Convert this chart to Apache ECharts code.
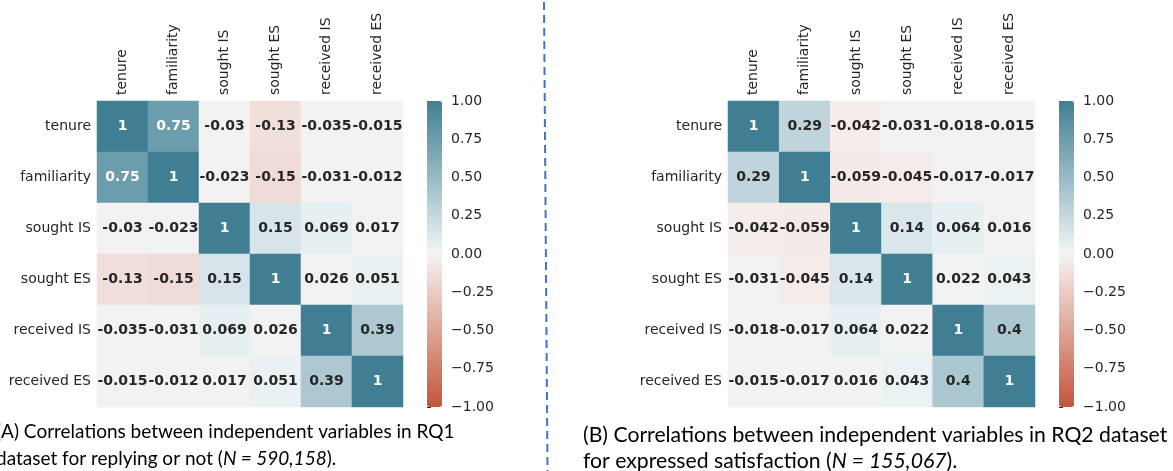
<!DOCTYPE html>
<html>
<head>
<meta charset="utf-8">
<script src="https://cdn.jsdelivr.net/npm/echarts@6/dist/echarts.min.js"></script>
<style>
html,body{margin:0;padding:0;background:#fff;}
#c{width:1173px;height:471px;}
</style>
</head>
<body>
<div id="c"></div>
<script>
const variables = ['tenure', 'familiarity', 'sought IS', 'sought ES', 'received IS', 'received ES'];

const corrRQ1 = [
  [1, 0.75, -0.03, -0.13, -0.035, -0.015],
  [0.75, 1, -0.023, -0.15, -0.031, -0.012],
  [-0.03, -0.023, 1, 0.15, 0.069, 0.017],
  [-0.13, -0.15, 0.15, 1, 0.026, 0.051],
  [-0.035, -0.031, 0.069, 0.026, 1, 0.39],
  [-0.015, -0.012, 0.017, 0.051, 0.39, 1]
];

const corrRQ2 = [
  [1, 0.29, -0.042, -0.031, -0.018, -0.015],
  [0.29, 1, -0.059, -0.045, -0.017, -0.017],
  [-0.042, -0.059, 1, 0.14, 0.064, 0.016],
  [-0.031, -0.045, 0.14, 1, 0.022, 0.043],
  [-0.018, -0.017, 0.064, 0.022, 1, 0.4],
  [-0.015, -0.017, 0.016, 0.043, 0.4, 1]
];

const colorbarMin = -1, colorbarMax = 1, colorbarStep = 0.25;

const captionA = ['(A) Correlations between independent variables in RQ1', 'dataset for replying or not (', 'N = 590,158', ').'];
const captionB = ['(B) Correlations between independent variables in RQ2 dataset', 'for expressed satisfaction (', 'N = 155,067', ').'];

// diverging palette (seaborn-like: red -> light -> gray band -> light -> teal)
const NEG = [195, 85, 58], NEG_LIGHT = [245, 237, 235], MID = [242, 242, 242], POS_LIGHT = [235, 242, 244], POS = [63, 127, 147];
const GRAY_BAND = 0.039;
function hex(c) { return '#' + c.map(x => Math.round(x).toString(16).padStart(2, '0')).join(''); }
function mix(a, b, t) { return a.map((x, k) => x + (b[k] - x) * t); }
function paletteAt(v) {
  if (Math.abs(v) < GRAY_BAND) return MID;
  const t = (Math.abs(v) - GRAY_BAND) / (1 - GRAY_BAND);
  return v < 0 ? mix(NEG_LIGHT, NEG, t) : mix(POS_LIGHT, POS, t);
}
const PALETTE = [];
for (let k = 0; k < 256; k++) PALETTE.push(hex(paletteAt(-1 + 2 * (k + 0.5) / 256)));

function toData(m) {
  const out = [];
  m.forEach((row, r) => row.forEach((v, c) => {
    out.push({
      value: [c, r, v],
      label: { color: Math.abs(v) > 0.6 ? '#ffffff' : '#262626' }
    });
  }));
  return out;
}

const TXT = '#262626';
const FONT = 'DejaVu Sans';

function heatGrid(left, width) {
  return { left: left, top: 101, width: width, height: 306 };
}

const grids = [
  heatGrid(97, 306),
  heatGrid(728, 307),
  { left: 427, top: 101, width: 15, height: 306 },
  { left: 1059, top: 101, width: 15, height: 306 }
];

const xAxes = [0, 1].map(i => ({
  type: 'category', gridIndex: i, data: variables, position: 'top',
  axisLine: { show: false }, axisTick: { show: false }, splitLine: { show: false },
  axisLabel: { rotate: -90, fontSize: 14, fontFamily: FONT, color: TXT, margin: 6, interval: 0 }
})).concat([2, 3].map(i => ({
  type: 'value', gridIndex: i, show: false, min: 0, max: 1
})));

const yAxes = [0, 1].map(i => ({
  type: 'category', gridIndex: i, data: variables, inverse: true,
  axisLine: { show: false }, axisTick: { show: false }, splitLine: { show: false },
  axisLabel: { fontSize: 14, fontFamily: FONT, color: TXT, margin: 6, interval: 0 }
})).concat([2, 3].map(i => ({
  type: 'value', gridIndex: i, min: colorbarMin, max: colorbarMax, interval: colorbarStep,
  position: 'right',
  axisLine: { show: false }, splitLine: { show: false },
  axisTick: { show: true, length: 4, lineStyle: { color: TXT, width: 1 } },
  axisLabel: {
    fontSize: 14, fontFamily: FONT, color: TXT, margin: 9,
    formatter: v => v.toFixed(2).replace('-', '\u2212')
  }
})));

function vm(idx, left) {
  return {
    type: 'continuous', seriesIndex: idx, min: colorbarMin, max: colorbarMax,
    left: left, top: 101, itemWidth: 15, itemHeight: 306, padding: 0,
    calculable: false, hoverLink: false, text: null, showLabel: false,
    inRange: { color: PALETTE }
  };
}

function heatSeries(i, m) {
  return {
    type: 'heatmap', xAxisIndex: i, yAxisIndex: i, data: toData(m),
    label: {
      show: true, fontSize: 14, fontFamily: FONT, fontWeight: 'bold',
      formatter: p => String(p.value[2])
    },
    emphasis: { disabled: true },
    itemStyle: { borderWidth: 0 }
  };
}

function caption(x, y, size, lh, lines) {
  return {
    type: 'text', left: x, top: y,
    style: {
      text: lines[0] + '\n' + lines[1] + '{i|' + lines[2] + '}' + lines[3],
      font: size + 'px Lato', fill: '#000', lineHeight: lh,
      rich: { i: { fontStyle: 'italic', fontSize: size, fontFamily: 'Lato', fill: '#000', lineHeight: lh } }
    }
  };
}

const chart = echarts.init(document.getElementById('c'), null, { renderer: 'canvas' });
chart.setOption({
  backgroundColor: '#ffffff',
  animation: false,
  grid: grids,
  xAxis: xAxes,
  yAxis: yAxes,
  visualMap: [vm(0, 427), vm(1, 1059)],
  series: [heatSeries(0, corrRQ1), heatSeries(1, corrRQ2)],
  graphic: [
    {
      type: 'line', shape: { x1: 544, y1: 2, x2: 547.5, y2: 471 },
      style: { stroke: '#4472c4', lineWidth: 2, lineDash: [8, 5] }, silent: true
    },
    caption(-4, 418, 19, 27, captionA),
    caption(583, 422, 21.2, 26, captionB)
  ]
});
</script>
</body>
</html>
